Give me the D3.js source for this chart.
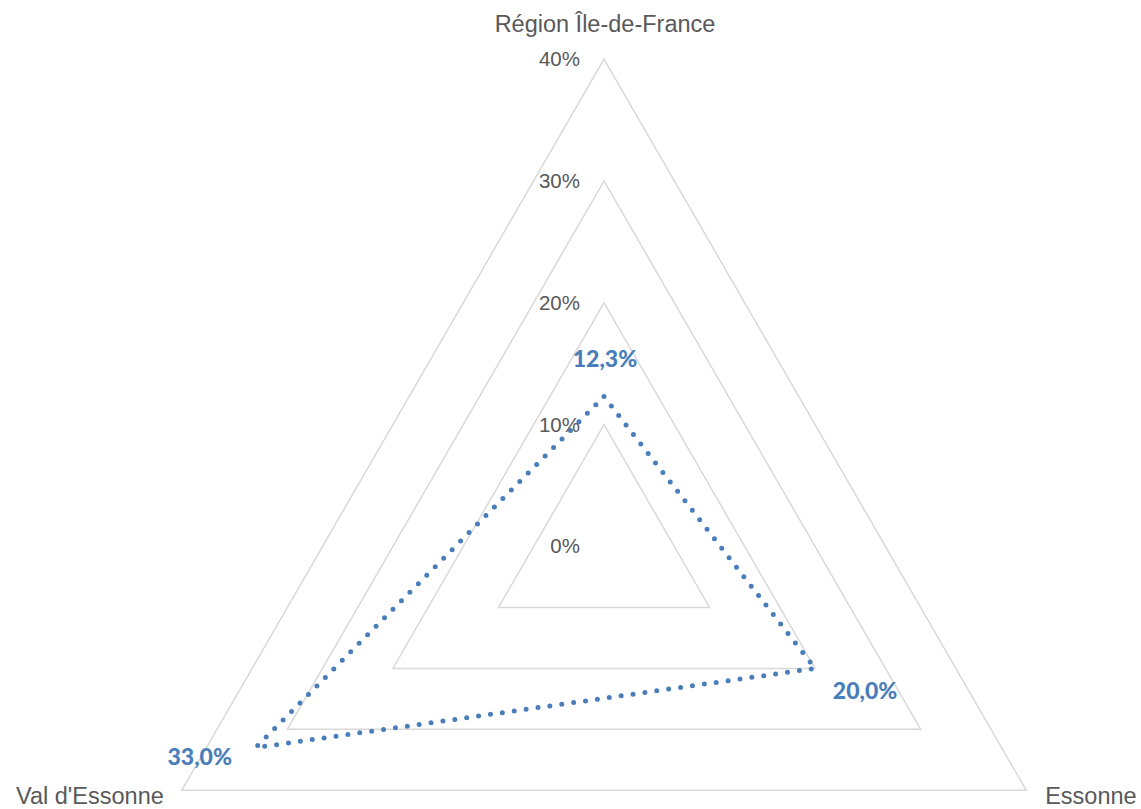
<!DOCTYPE html>
<html>
<head>
<meta charset="utf-8">
<script src="https://cdn.jsdelivr.net/npm/d3@7"></script>
<style>
  html, body { margin: 0; padding: 0; background: #fff; }
  svg { display: block; }
</style>
</head>
<body>
<svg id="chart" width="1141" height="809"></svg>
<script>
// Radar chart: share per territory
const categories = ["Région Île-de-France", "Essonne", "Val d'Essonne"];
const values = [0.123, 0.200, 0.330];
const valueLabels = ["12,3%", "20,0%", "33,0%"];
const tickValues = [0, 0.1, 0.2, 0.3, 0.4];
const tickLabels = ["0%", "10%", "20%", "30%", "40%"];

const W = 1141, H = 809;
const cx = 604, cy = 546.5;
const R = 487.5;

const svg = d3.select("#chart");

const r = d3.scaleLinear().domain([0, 0.4]).range([0, R]);
const angle = d3.scaleOrdinal()
  .domain(categories)
  .range(categories.map((_, i) => i * 2 * Math.PI / categories.length));

function pt(cat, v) {
  const a = angle(cat);
  return [cx + r(v) * Math.sin(a), cy - r(v) * Math.cos(a)];
}

const radial = d3.lineRadial()
  .angle((d, i) => angle(categories[i]))
  .radius(d => r(d))
  .curve(d3.curveLinearClosed);

const g = svg.append("g").attr("transform", `translate(${cx},${cy})`);

// Grid rings
g.selectAll("path.ring")
  .data(tickValues.filter(t => t > 0))
  .join("path")
  .attr("class", "ring")
  .attr("d", t => radial(categories.map(() => t)))
  .attr("fill", "none")
  .attr("stroke", "#d9d9d9")
  .attr("stroke-width", 1.5);

// Tick labels along the top axis
svg.selectAll("text.tick")
  .data(tickValues)
  .join("text")
  .attr("class", "tick")
  .attr("x", cx - 24)
  .attr("y", t => cy - r(t) + 1.5)
  .attr("text-anchor", "end")
  .attr("dominant-baseline", "middle")
  .attr("font-family", "Liberation Sans, Arial, sans-serif")
  .attr("font-size", 20.5)
  .attr("fill", "#595959")
  .text((t, i) => tickLabels[i]);

// Category labels
const catPos = [
  { x: cx + 1, y: 32, anchor: "middle" },
  { x: pt(categories[1], 0.4)[0] + 19, y: 804, anchor: "start" },
  { x: pt(categories[2], 0.4)[0] - 18, y: 804, anchor: "end" }
];
svg.selectAll("text.cat")
  .data(categories)
  .join("text")
  .attr("class", "cat")
  .attr("x", (d, i) => catPos[i].x)
  .attr("y", (d, i) => catPos[i].y)
  .attr("text-anchor", (d, i) => catPos[i].anchor)
  .attr("font-family", "Liberation Sans, Arial, sans-serif")
  .attr("font-size", 23.5)
  .attr("fill", "#595959")
  .text(d => d);

// Data series (dotted)
g.append("path")
  .datum(values)
  .attr("d", radial)
  .attr("fill", "none")
  .attr("stroke", "#4a7ebb")
  .attr("stroke-width", 5)
  .attr("stroke-linecap", "round")
  .attr("stroke-dasharray", "0 12");

// Data labels
const labelOffset = [[1, -30], [50, 31], [-56, 17.5]];
svg.selectAll("text.val")
  .data(values)
  .join("text")
  .attr("class", "val")
  .attr("x", (v, i) => pt(categories[i], v)[0] + labelOffset[i][0])
  .attr("y", (v, i) => pt(categories[i], v)[1] + labelOffset[i][1])
  .attr("text-anchor", "middle")
  .attr("font-family", "Lato, Carlito, Calibri, sans-serif")
  .attr("font-weight", 900)
  .attr("font-size", 23)
  .attr("fill", "#4a7ebb")
  .text((v, i) => valueLabels[i]);
</script>
</body>
</html>
